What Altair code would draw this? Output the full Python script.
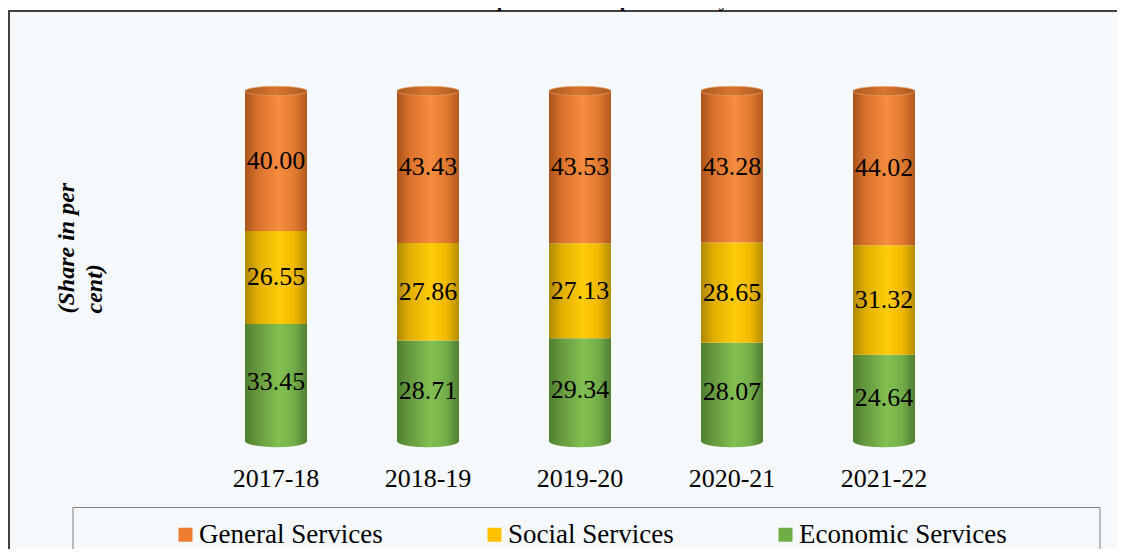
import altair as alt
import pandas as pd

years = ["2017-18", "2018-19", "2019-20", "2020-21", "2021-22"]
general = [40.00, 43.43, 43.53, 43.28, 44.02]
social = [26.55, 27.86, 27.13, 28.65, 31.32]
economic = [33.45, 28.71, 29.34, 28.07, 24.64]
series = ["General Services", "Social Services", "Economic Services"]
colors = ["#ED7D31", "#FFC000", "#70AD47"]
title_text = "Chart 2.8: Total expenditure - Expenditure by activities"

rows = []
for i, yr in enumerate(years):
    e, s, g = economic[i], social[i], general[i]
    rows.append(dict(year=yr, series="Economic Services", value=e, start=0.0, end=e))
    rows.append(dict(year=yr, series="Social Services", value=s, start=e, end=e + s))
    rows.append(dict(year=yr, series="General Services", value=g, start=e + s, end=e + s + g))
df = pd.DataFrame(rows)
df["mid"] = (df["start"] + df["end"]) / 2
df["label"] = df["value"].map(lambda v: f"{v:.2f}")

one = pd.DataFrame({"a": [0]})

FONT = "Liberation Serif"


def grad(stops):
    return alt.LinearGradient(
        gradient="linear", x1=0, x2=1, y1=0, y2=0,
        stops=[alt.GradientStop(offset=o, color=c) for o, c in stops],
    )


g_orange = grad([(0, "#A9541C"), (0.2, "#D8712B"), (0.55, "#F68D3E"), (0.8, "#E07A30"), (1, "#B25A1E")])
g_yellow = grad([(0, "#AD8800"), (0.2, "#E0AE00"), (0.55, "#FFCC0A"), (0.8, "#F0B800"), (1, "#B38E00")])
g_green = grad([(0, "#4F7F2F"), (0.2, "#66993E"), (0.55, "#82C052"), (0.8, "#72AD48"), (1, "#527D32")])
g_cap = grad([(0, "#B05A1E"), (0.5, "#D8772F"), (1, "#B05A1E")])

xs = alt.Scale(domain=years, paddingInner=0.592, paddingOuter=1)
ys = alt.Scale(domain=[0, 100], nice=False, zero=False)

xaxis = alt.Axis(title=None, labelAngle=0, labelFont=FONT, labelFontSize=26,
                 labelColor="black", domain=False, ticks=False, tickSize=0,
                 labelPadding=24, grid=False, zindex=2)
yaxis = alt.Axis(title=["(Share in per", "cent)"], labels=False, ticks=False,
                 domain=False, grid=False, titleAngle=270, titleAlign="left",
                 titleBaseline="top", titleX=-39, titleY=222, titleFont=FONT,
                 titleFontSize=24, titleFontStyle="italic", titleFontWeight="bold",
                 titleLineHeight=28, titleColor="black", zindex=2)

X = alt.X("year:N", scale=xs, axis=xaxis, sort=years)

bg = alt.Chart(one).mark_rect(fill="#F5F9FC", strokeWidth=0).encode(
    x=alt.value(-84), x2=alt.value(1300), y=alt.value(-80), y2=alt.value(800))
bg_top = alt.Chart(one).mark_rule(color="#404040", strokeWidth=2).encode(
    x=alt.value(-85), x2=alt.value(1300), y=alt.value(-80))
bg_left = alt.Chart(one).mark_rule(color="#404040", strokeWidth=2).encode(
    x=alt.value(-84), y=alt.value(-81), y2=alt.value(800))

legbox = alt.Chart(one).mark_rect(fill="#F5F9FC", stroke="#808080", strokeWidth=1).encode(
    x=alt.value(-20), x2=alt.value(1007), y=alt.value(416.5), y2=alt.value(800))

title = alt.Chart(one).mark_text(text=title_text, font=FONT, fontSize=20, fontWeight="bold",
                                 baseline="alphabetic", align="center", color="black").encode(
    x=alt.value(480), y=alt.value(-85))


def bars(name, fill):
    return alt.Chart(df).transform_filter(alt.datum.series == name).mark_bar(fill=fill).encode(
        x=X, y=alt.Y("start:Q", scale=ys, axis=yaxis), y2="end:Q")


b_econ = bars("Economic Services", g_green)
b_soc = bars("Social Services", g_yellow)
b_gen = bars("General Services", g_orange)

ellipse_bot = "M -1 0 A 1 0.2 0 1 0 1 0 A 1 0.2 0 1 0 -1 0 Z"
ellipse_top = "M -1 0 A 1 0.15 0 1 0 1 0 A 1 0.15 0 1 0 -1 0 Z"

bottom = alt.Chart(df).transform_filter(alt.datum.series == "Economic Services").mark_point(
    shape=ellipse_bot, filled=True, fill=g_green, size=3844, opacity=1, strokeWidth=0).encode(
    x=X, y=alt.Y("start:Q", scale=ys, axis=yaxis))

top = alt.Chart(df).transform_filter(alt.datum.series == "General Services").mark_point(
    shape=ellipse_top, filled=True, fill=g_cap, size=3844, opacity=1,
    stroke="#EFA577", strokeWidth=0.6).encode(
    x=X, y=alt.Y("end:Q", scale=ys, axis=yaxis))

labels = alt.Chart(df).mark_text(font=FONT, fontSize=26, color="black",
                                 baseline="middle", align="center").encode(
    x=X, y=alt.Y("mid:Q", scale=ys, axis=yaxis), text="label:N")

legend_layer = alt.Chart(df).mark_square(opacity=0, size=4).encode(
    x=X, y=alt.Y("mid:Q", scale=ys, axis=yaxis),
    color=alt.Color("series:N", scale=alt.Scale(domain=series, range=colors),
                    legend=alt.Legend(orient="none", legendX=79, legendY=430,
                                      direction="horizontal", title=None,
                                      labelFont=FONT, labelFontSize=27, labelColor="black",
                                      symbolType="square", symbolSize=196,
                                      symbolStrokeWidth=0, symbolOpacity=1,
                                      labelOffset=0, columnPadding=98, padding=0,
                                      labelLimit=400)))

chart = alt.layer(bg, bg_top, bg_left, legbox, title, b_econ, b_soc, b_gen, bottom, top,
                  labels, legend_layer).properties(
    width=974, height=350,
    autosize=alt.AutoSizeParams(type="none"),
    padding={"left": 85, "right": 50, "top": 83, "bottom": 108},
).configure_view(stroke=None).configure(background="white")

chart.save("out.html", embed_options={"renderer": "svg", "actions": False})
